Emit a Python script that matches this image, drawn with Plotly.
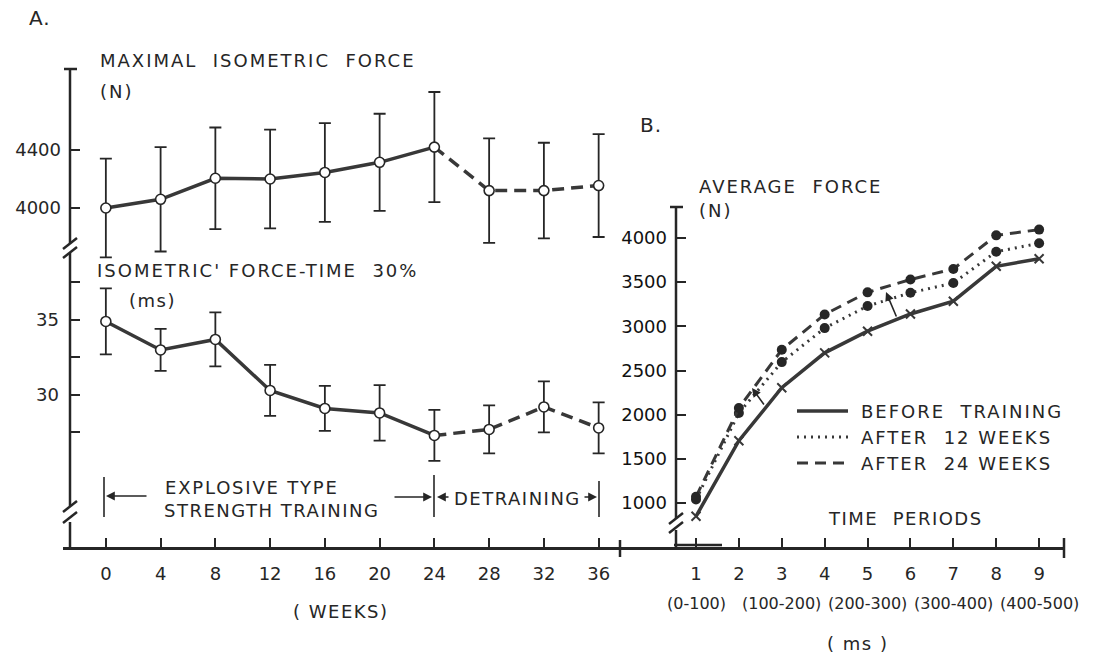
import plotly.graph_objects as go

# ---- Panel A: training / detraining over weeks ----
weeks = [0, 4, 8, 12, 16, 20, 24, 28, 32, 36]
force_mean = [4000, 4060, 4205, 4200, 4245, 4315, 4420, 4120, 4120, 4155]
force_sd = [340, 360, 350, 340, 340, 335, 380, 360, 330, 355]
ft30_mean = [34.9, 33.0, 33.7, 30.3, 29.1, 28.8, 27.3, 27.7, 29.2, 27.8]
ft30_sd = [2.2, 1.4, 1.8, 1.7, 1.5, 1.85, 1.7, 1.6, 1.7, 1.7]
TRAIN_END = 6  # index of week 24, last training point

force_ticks = [4000, 4400]
ft_ticks = [27.5, 30, 32.5, 35, 37.5]
ft_ticktext = ["", "30", "", "35", ""]

# ---- Panel B: average force per time period ----
periods = [1, 2, 3, 4, 5, 6, 7, 8, 9]
period_ranges = ["(0-100)", "(100-200)", "(200-300)", "(300-400)", "(400-500)"]
period_range_pos = [1, 3, 5, 7, 9]
before_training = [850, 1705, 2305, 2700, 2945, 3140, 3285, 3680, 3765]
after_12_weeks = [1040, 2020, 2595, 2980, 3230, 3380, 3490, 3845, 3940]
after_24_weeks = [1070, 2075, 2735, 3135, 3385, 3530, 3650, 4030, 4095]
avg_force_ticks = [1000, 1500, 2000, 2500, 3000, 3500, 4000]
series_names = ["BEFORE  TRAINING", "AFTER  12 WEEKS", "AFTER  24 WEEKS"]

W, H = 1099, 654
INK = "#262626"
LINE = "#383838"
FONT = "DejaVu Sans"

SOLID = dict(color=LINE, width=3.5)
DOTTED = dict(color=LINE, width=3, dash="2px,5px")
DASHED = dict(color=LINE, width=3, dash="11px,7px")
DASHED_A = dict(color=LINE, width=3.5, dash="12px,7px")


def px(x):
    return x / W


def py(y):
    return 1 - y / H


def spaced(text, ls=1.8):
    return f'<span style="letter-spacing:{ls}px">{text}</span>'


fig = go.Figure()

# Panel A, upper: maximal isometric force
fig.add_trace(go.Scatter(x=weeks[:TRAIN_END + 1], y=force_mean[:TRAIN_END + 1],
                         mode="lines", line=SOLID, xaxis="x", yaxis="y", showlegend=False))
fig.add_trace(go.Scatter(x=weeks[TRAIN_END:], y=force_mean[TRAIN_END:],
                         mode="lines", line=DASHED_A, xaxis="x", yaxis="y", showlegend=False))
fig.add_trace(go.Scatter(x=weeks, y=force_mean, mode="markers",
                         marker=dict(symbol="circle", size=10, color="white",
                                     line=dict(color=INK, width=1.6)),
                         error_y=dict(type="data", array=force_sd, visible=True,
                                      color=INK, thickness=1.8, width=6),
                         xaxis="x", yaxis="y", showlegend=False, cliponaxis=False))

# Panel A, lower: isometric force-time 30 %
fig.add_trace(go.Scatter(x=weeks[:TRAIN_END + 1], y=ft30_mean[:TRAIN_END + 1],
                         mode="lines", line=SOLID, xaxis="x", yaxis="y2", showlegend=False))
fig.add_trace(go.Scatter(x=weeks[TRAIN_END:], y=ft30_mean[TRAIN_END:],
                         mode="lines", line=DASHED_A, xaxis="x", yaxis="y2", showlegend=False))
fig.add_trace(go.Scatter(x=weeks, y=ft30_mean, mode="markers",
                         marker=dict(symbol="circle", size=10, color="white",
                                     line=dict(color=INK, width=1.6)),
                         error_y=dict(type="data", array=ft30_sd, visible=True,
                                      color=INK, thickness=1.8, width=6),
                         xaxis="x", yaxis="y2", showlegend=False, cliponaxis=False))

# Panel B curves
fig.add_trace(go.Scatter(x=periods, y=before_training, mode="lines+markers",
                         name=series_names[0], line=SOLID,
                         marker=dict(symbol="x-thin-open", size=9,
                                     line=dict(color=INK, width=2)),
                         xaxis="x2", yaxis="y3", showlegend=False, cliponaxis=False))
fig.add_trace(go.Scatter(x=periods, y=after_12_weeks, mode="lines+markers",
                         name=series_names[1], line=DOTTED,
                         marker=dict(symbol="circle", size=10, color=INK),
                         xaxis="x2", yaxis="y3", showlegend=False, cliponaxis=False))
fig.add_trace(go.Scatter(x=periods, y=after_24_weeks, mode="lines+markers",
                         name=series_names[2], line=DASHED,
                         marker=dict(symbol="circle", size=10, color=INK),
                         xaxis="x2", yaxis="y3", showlegend=False, cliponaxis=False))

common_axis = dict(showgrid=False, zeroline=False, showline=False,
                   ticks="inside", tickcolor=INK, tickwidth=2,
                   tickfont=dict(family=FONT, size=18, color=INK))

fig.update_layout(
    width=W, height=H,
    margin=dict(l=0, r=0, t=0, b=0),
    paper_bgcolor="white", plot_bgcolor="rgba(0,0,0,0)",
    font=dict(family=FONT, size=18, color=INK),
    showlegend=False,
    xaxis=dict(common_axis, domain=[px(63), px(620)], range=[-3.13, 37.56],
               anchor="free", position=py(548), showline=True, linecolor=INK,
               linewidth=2.5, tickvals=weeks, ticklen=9, ticklabelstandoff=9),
    xaxis2=dict(common_axis, domain=[px(620), px(1064)], range=[-0.772, 9.58],
                anchor="free", position=py(548), showline=True, linecolor=INK,
                linewidth=2.5, tickvals=periods, ticklen=9, ticklabelstandoff=9),
    yaxis=dict(common_axis, domain=[py(262), py(69)], range=[3627.6, 4958.6],
               anchor="free", position=px(70), tickvals=force_ticks, ticklen=9,
               ticklabelstandoff=9),
    yaxis2=dict(common_axis, domain=[py(525), py(246)], range=[21.33, 39.93],
                anchor="free", position=px(70), tickvals=ft_ticks,
                ticktext=ft_ticktext, ticklen=9, ticklabelstandoff=11),
    yaxis3=dict(common_axis, domain=[py(532), py(207)], range=[672, 4351],
                anchor="free", position=px(676), tickvals=avg_force_ticks,
                ticklen=9, ticklabelstandoff=9,
                tickfont=dict(family=FONT, size=18, color="#111")),
)

# Axis lines with breaks (paper coordinates)
axis_segments = [
    # panel A vertical axis
    (70, 69, 70, 243), (70, 253, 70, 506), (70, 522, 70, 548), (64, 69, 77, 69),
    (63, 249, 77, 238), (63, 258, 77, 247),
    (63, 512, 77, 501), (63, 523, 77, 512),
    # panel B vertical axis
    (676, 207, 676, 518), (676, 530, 676, 548), (670, 207, 683, 207),
    (669, 524, 683, 513), (669, 533, 683, 522), (674, 545, 722, 545),
    # end ticks on the shared horizontal axis
    (620, 540, 620, 557), (1064, 538, 1064, 558),
]
for x0, y0, x1, y1 in axis_segments:
    fig.add_shape(type="line", xref="paper", yref="paper",
                  x0=px(x0), y0=py(y0), x1=px(x1), y1=py(y1),
                  line=dict(color=INK, width=2.5))

# Bars delimiting the training and detraining periods
for x, y0, y1 in [(104, 477, 517), (434, 475, 517), (599, 481, 517)]:
    fig.add_shape(type="line", xref="paper", yref="paper",
                  x0=px(x), y0=py(y0), x1=px(x), y1=py(y1),
                  line=dict(color=INK, width=1.6))

# Arrows for the training / detraining periods and significance marks
arrows = [
    (106, 496, 42, 0), (432, 497, -39, 0), (437, 497, 13, 0), (597, 497, -14, 0),
    (752, 388, 13, 18), (886, 292, 11, 26),
]
for hx, hy, ax, ay in arrows:
    fig.add_annotation(xref="paper", yref="paper", x=px(hx), y=py(hy), ax=ax, ay=ay,
                       text="", showarrow=True, arrowhead=2, arrowsize=1.1,
                       arrowwidth=1.6, arrowcolor=INK)

# Legend for panel B (line samples + labels)
legend_rows = [411, 437, 463]
for name, style, y in zip(series_names, [SOLID, DOTTED, DASHED], legend_rows):
    fig.add_shape(type="line", xref="paper", yref="paper",
                  x0=px(797), y0=py(y), x1=px(848), y1=py(y), line=style)
    fig.add_annotation(xref="paper", yref="paper", x=px(859), y=py(y),
                       text=spaced(name, 2), showarrow=False, xanchor="left",
                       yanchor="middle", font=dict(family=FONT, size=18, color=INK))

# Text labels
texts = [
    ("A.", 27, 18, "left", 20, 1),
    ("MAXIMAL  ISOMETRIC  FORCE", 98, 60, "left", 18, 2),
    ("(N)", 98, 92, "left", 18, 2),
    ("ISOMETRIC' FORCE-TIME  30%", 95, 271, "left", 18, 2),
    ("(ms)", 127, 300, "left", 18, 1.5),
    ("EXPLOSIVE TYPE", 163, 487, "left", 18, 1.8),
    ("STRENGTH TRAINING", 162, 510, "left", 18, 1.5),
    ("DETRAINING", 452, 498, "left", 18, 1.5),
    ("( WEEKS)", 341, 611, "center", 18, 1.5),
    ("B.", 638, 125, "left", 20, 1),
    ("AVERAGE  FORCE", 697, 186, "left", 18, 2),
    ("(N)", 697, 210, "left", 18, 2),
    ("TIME  PERIODS", 905, 518, "center", 18, 1.5),
    ("( ms )", 857, 643, "center", 18, 1.5),
]
for txt, x, y, anchor, size, ls in texts:
    fig.add_annotation(xref="paper", yref="paper", x=px(x), y=py(y), text=spaced(txt, ls),
                       showarrow=False, xanchor=anchor, yanchor="middle",
                       font=dict(family=FONT, size=size, color=INK))

for label, pos in zip(period_ranges, period_range_pos):
    fig.add_annotation(xref="x2", yref="paper", x=pos, y=py(603), text=label,
                       showarrow=False, xanchor="center", yanchor="middle",
                       font=dict(family=FONT, size=16, color=INK))

fig.write_html("out.html")
